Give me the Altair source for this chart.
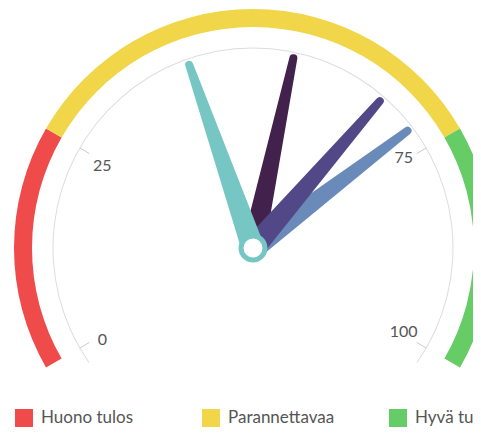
import altair as alt
import pandas as pd

# ---- data ----
band_names = ["Huono tulos", "Parannettavaa", "Hyvä tulos"]
band_from = [0, 25, 75]
band_to = [25, 75, 100]
band_colors = ["#f04b4b", "#f0d648", "#66cc66"]

needle_names = ["Sarja 2", "Sarja 4", "Sarja 3", "Sarja 1"]
needle_values = [55, 72, 67, 42]
needle_colors = ["#43214d", "#6a8bb9", "#524888", "#76c6c3"]

tick_values = [0, 25, 75, 100]

# ---- layout ----
W, H = 465, 419
CX, CY = 245, 240          # gauge centre inside the view (px)
R_NEEDLE = 194
START, SPAN = -120, 240    # degrees, 0 = up, clockwise

xs = alt.Scale(domain=[-CX, W - CX], range=[0, W], nice=False, zero=False)
ys = alt.Scale(domain=[-(H - CY), CY], range=[H, 0], nice=False, zero=False)
ang = f"({START} + {SPAN} * datum.v / 100) * PI / 180"

bands = pd.DataFrame({"name": band_names, "v0": band_from, "v1": band_to})
needles = pd.DataFrame({"needle": needle_names, "v": needle_values})
ticks = pd.DataFrame({"v": tick_values})

theta_scale = alt.Scale(domain=[0, 100], range=[-2.0944, 2.0944])

band_layer = alt.Chart(bands).mark_arc(radius=239, radius2=221).encode(
    x=alt.datum(0, scale=xs, axis=None),
    y=alt.datum(0, scale=ys, axis=None),
    theta=alt.Theta("v0:Q", scale=theta_scale),
    theta2="v1:Q",
    color=alt.Color(
        "name:N",
        scale=alt.Scale(domain=band_names, range=band_colors),
        legend=alt.Legend(
            title=None, orient="none", direction="horizontal", columns=3,
            legendX=7, legendY=401, symbolType="square", symbolSize=324,
            symbolStrokeWidth=0, symbolOpacity=1, labelFontSize=17,
            labelFont="Lato", labelColor="#555555", gridAlign="all",
            columnPadding=54, labelOffset=8, padding=0, labelLimit=400,
        ),
    ),
)

pane_layer = alt.Chart(pd.DataFrame({"v": [0]})).mark_arc(
    radius=200.5, radius2=199.5, color="#dddddd"
).encode(
    x=alt.datum(0, scale=xs),
    y=alt.datum(0, scale=ys),
    theta=alt.value(-2.18),
    theta2=alt.value(2.18),
)

tick_layer = alt.Chart(ticks).transform_calculate(
    x1=f"200 * sin({ang})", y1=f"200 * cos({ang})",
    x2=f"189 * sin({ang})", y2=f"189 * cos({ang})",
).mark_rule(color="#cccccc", strokeWidth=1).encode(
    x=alt.X("x1:Q", scale=xs), y=alt.Y("y1:Q", scale=ys),
    x2="x2:Q", y2="y2:Q",
)


def labels(side_filter, dy):
    return alt.Chart(ticks).transform_filter(side_filter).transform_calculate(
        lx=f"174 * sin({ang})", ly=f"174 * cos({ang})",
    ).mark_text(
        font="Lato", fontSize=16, color="#555555", align="center", baseline="middle", dy=dy
    ).encode(
        x=alt.X("lx:Q", scale=xs), y=alt.Y("ly:Q", scale=ys), text="v:Q",
    )


label_left = labels("datum.v < 50", 5)
label_right = labels("datum.v > 50", -3)

needle_layer = alt.Chart(needles).transform_calculate(
    t="[0, 1]"
).transform_flatten(["t"]).transform_calculate(
    px=f"datum.t * {R_NEEDLE} * sin({ang})",
    py=f"datum.t * {R_NEEDLE} * cos({ang})",
    w="23 - 15 * datum.t",
).mark_trail().encode(
    x=alt.X("px:Q", scale=xs),
    y=alt.Y("py:Q", scale=ys),
    size=alt.Size("w:Q", scale=None, legend=None),
    detail="needle:N",
    order="t:Q",
    color=alt.Color("needle:N", scale=alt.Scale(domain=needle_names, range=needle_colors), legend=None),
)

pivot = alt.Chart(pd.DataFrame({"v": [0]})).mark_point(
    filled=False, fill="white", fillOpacity=1, stroke="#76c6c3", strokeWidth=5, size=573, opacity=1
).encode(
    x=alt.datum(0, scale=xs),
    y=alt.datum(0, scale=ys),
)

chart = alt.layer(
    band_layer, pane_layer, tick_layer, label_left, label_right, needle_layer, pivot
).resolve_scale(color="independent").properties(
    width=W, height=H, padding=0, autosize=alt.AutoSizeParams(type="none")
).configure_view(stroke=None)

chart.save("out.html", embed_options={"renderer": "svg", "actions": False})
